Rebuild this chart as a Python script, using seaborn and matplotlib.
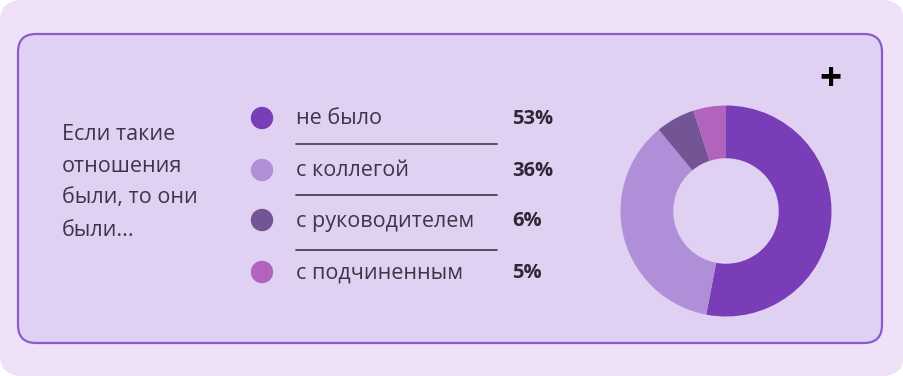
import numpy as np
import pandas as pd
import matplotlib.pyplot as plt
import matplotlib.patches as mpatches
import seaborn as sns

# data
categories = ["не было", "с коллегой", "с руководителем", "с подчиненным"]
shares = [53, 36, 6, 5]
pct_labels = ["53%", "36%", "6%", "5%"]
colors_ = ["#7a3db8", "#b08fd9", "#735594", "#b064be"]
question_lines = ["Если такие", "отношения", "были, то они", "были..."]

sns.set_theme(style="white")
plt.rcParams['font.family'] = ['Open Sans', 'DejaVu Sans']

W, H = 904, 376
fig = plt.figure(figsize=(W / 100, H / 100), dpi=100)
fig.patch.set_facecolor("white")
ax = fig.add_axes([0, 0, 1, 1])
ax.set_xlim(0, W)
ax.set_ylim(H, 0)
ax.axis("off")

# backgrounds
outer = mpatches.FancyBboxPatch((20, 20), W - 40, H - 40,
                                boxstyle="round,pad=20,rounding_size=22",
                                fc="#efe2f8", ec="none")
ax.add_patch(outer)
inner = mpatches.FancyBboxPatch((18, 34), 864, 309,
                                boxstyle="round,pad=0,rounding_size=18",
                                fc="#e0d0f2", ec="#8a5cc9", lw=1.6)
ax.add_patch(inner)

# question text
for i, line in enumerate(question_lines):
    ax.text(62, 134 + i * 32, line, fontsize=15.5, color="#3d3647",
            va="center", ha="left")

# legend dots
ys = [118, 170, 220, 272]
leg = pd.DataFrame({"x": [262] * 4, "y": ys, "cat": categories})
sns.scatterplot(data=leg, x="x", y="y", hue="cat", palette=colors_,
                s=260, linewidth=0, legend=False, ax=ax)

for y, cat, p in zip(ys, categories, pct_labels):
    ax.text(296, y + 1, cat, fontsize=15.5, color="#3d3647", va="center", ha="left")
    ax.text(512, y + 1, p, fontsize=14.5, color="#2e2836", va="center", ha="left",
            fontweight="bold")

for y in [144, 195, 250]:
    ax.plot([296, 497], [y, y], color="#4a4352", lw=1.3)

# plus sign
ax.text(830, 79, "+", fontsize=28, color="black", fontweight="bold",
        ha="center", va="center")

# donut
cx, cy, r = 726, 211, 105.5
pax = fig.add_axes([(cx - r) / W, (H - cy - r) / H, 2 * r / W, 2 * r / H])
pax.pie(shares, colors=colors_, startangle=90, counterclock=False,
        wedgeprops=dict(width=0.5, linewidth=0))
pax.set_xlim(-1, 1)
pax.set_ylim(-1, 1)
pax.set_aspect("equal")
pax.axis("off")

fig.savefig("out.png", dpi=100)
